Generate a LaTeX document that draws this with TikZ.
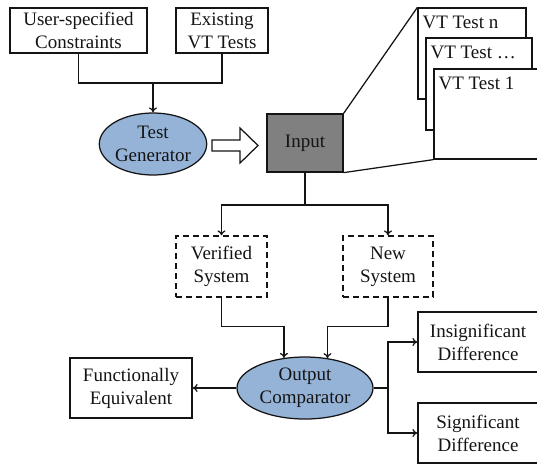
\documentclass[tikz,border=0pt]{standalone}
\usepackage{fontspec}
\setmainfont{Liberation Serif}
\usetikzlibrary{arrows.meta,shapes.geometric}

\definecolor{procblue}{RGB}{149,179,215}
\definecolor{inputgray}{RGB}{128,128,128}
\definecolor{ink}{RGB}{20,20,20}

\tikzset{
  base/.style={draw=ink, line width=1.25pt, text=ink, align=center, inner sep=0pt,
               font=\fontsize{19}{23}\selectfont},
  box/.style={base, rectangle},
  dashbox/.style={base, rectangle, dash pattern=on 6pt off 4pt},
  proc/.style={base, ellipse, fill=procblue},
  page/.style={base, rectangle, fill=white},
  pagetext/.style={text=ink, anchor=north west, inner sep=0pt, font=\fontsize{19}{23}\selectfont},
  conn/.style={draw=ink, line width=1.25pt},
  arr/.style={conn, -{To[length=5pt,width=8pt]}},
}

\begin{document}
\begin{tikzpicture}[x=1pt, y=-1pt]
\useasboundingbox (0,0) rectangle (537,464);

% sources of the generator
\node[box, minimum width=137pt, minimum height=45pt] (user) at (78.5,30.5) {User-specified\\Constraints};
\node[box, minimum width=92pt, minimum height=45pt] (exist) at (222,30.5) {Existing\\VT Tests};

% generator and its input set
\node[proc, minimum width=107pt, minimum height=62pt] (gen) at (153,144) {Test\\Generator};
\node[box, fill=inputgray, minimum width=76pt, minimum height=58pt] (inp) at (305,143) {Input};

% stack of test pages
\node[page, minimum width=108pt, minimum height=91pt] (vtn) at (472,53.5) {};
\node[pagetext] (vtnl) at ([xshift=5pt,yshift=-8pt]vtn.north west) {VT Test n};
\node[page, minimum width=106pt, minimum height=92pt] (vtd) at (479,84) {};
\node[pagetext] (vtdl) at ([xshift=5pt,yshift=-8pt]vtd.north west) {VT Test \ldots};
\node[page, minimum width=110pt, minimum height=90pt] (vt1) at (489,114) {};
\node[pagetext] (vt1l) at ([xshift=5pt,yshift=-8pt]vt1.north west) {VT Test 1};

% systems under comparison
\node[dashbox, minimum width=91pt, minimum height=61pt] (ver) at (221.5,266.5) {Verified\\System};
\node[dashbox, minimum width=90pt, minimum height=61pt] (new) at (388,266.5) {New\\System};

% comparator and outcomes
\node[proc, minimum width=136pt, minimum height=62pt] (out) at (305,388) {Output\\Comparator};
\node[box, minimum width=122pt, minimum height=60pt] (func) at (131,388) {Functionally\\Equivalent};
\node[box, minimum width=120pt, minimum height=60pt] (insig) at (478,342) {Insignificant\\Difference};
\node[box, minimum width=120pt, minimum height=60pt] (sig) at (478,433) {Significant\\Difference};

% junction points
\coordinate (j1) at (153,83);
\coordinate (j2) at (305,205);
\coordinate (j3) at (388,388);

% connectors
\draw[conn] (user.south) |- (j1) -| (exist.south);
\draw[arr] (j1) -- (gen.north);

\draw[conn, fill=white] (212,140) -- (240,140) -- (240,128) -- (258,145.5)
  -- (240,163) -- (240,151) -- (212,151) -- cycle;

\draw[conn] (inp.north east) -- (vtn.north west);
\draw[conn] (inp.south east) -- (vt1.south west);

\draw[conn] (inp.south) -- (j2);
\draw[arr] (j2) -| (ver.north);
\draw[arr] (j2) -| (new.north);

\draw[arr] (ver.south) -- ++(0,29) -| (out.125);
\draw[arr] (new.south) -- ++(0,29) -| (out.53);

\draw[arr] (out.west) -- (func.east);
\draw[conn] (out.east) -- (j3);
\draw[arr] (j3) |- (insig.west);
\draw[arr] (j3) |- (sig.west);
\end{tikzpicture}
\end{document}
